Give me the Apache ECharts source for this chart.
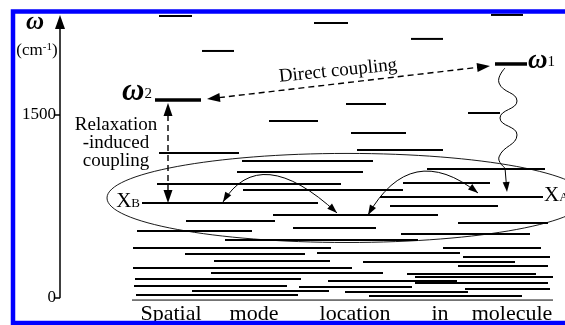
<!DOCTYPE html>
<html><head><meta charset="utf-8">
<script src="https://cdn.jsdelivr.net/npm/echarts@6/dist/echarts.min.js"></script>
<style>html,body{margin:0;padding:0;background:#fff}#c{width:565px;height:325px}</style>
</head><body><div id="c"></div>
<script>
// ---- data (x = position along molecule, v = frequency in cm-1) ----
const yTicks = [0, 1500];
// vibrational levels: [xStart, xEnd, frequency]
const levels = [
  [159,192,2314],[491,523,2322],[314,348,2256],[411,443,2125],[202,234,2026],
  [346,386,1590],[468,500,1516],[269,318,1451],[351,406,1352],[357,443,1212],
  [159,239,1188],[242,373,1122],[427,545,1056],[237,363,1031],[403,490,941],
  [157,341,933],[243,403,884],[380,543,826],[142,318,777],[390,498,752],
  [273,438,678],[186,275,629],[458,548,612],[293,376,571],[137,252,547],
  [401,530,522],[225,418,473],[133,331,407],[443,541,407],[185,305,358],
  [317,460,366],[463,550,333],[214,330,300],[363,515,292],[458,548,259],
  [133,352,242],[211,383,201],[407,536,193],[415,553,168],[135,301,152],
  [328,457,136],[415,548,119],[134,287,95],[299,412,86],[465,550,70],
  [192,329,53],[345,468,45],[136,298,21],[369,522,12]
];
const baseLevel = [[132,553,-21]];
const keyLevels = [[155,201,1623],[495,527,1919]];          // omega2, omega1
// mixing region: [centerX, centerFreq, halfWidthX, halfHeightFreq]
const mixingZone = [[347,818,240,366]];
// relaxation wavy path from omega1 down to X_A
const relaxWave = [[505,1886],[499,1763],[517,1615],[500,1475],[517,1336],[499,1155],[505,1064]];
const relaxDrop = [[505,1064],[507,867]];
// double-headed dashed couplings: [x1, v1, x2, v2]
const dashedCouplings = [[207,1631,490,1903],[168,1599,168,777]];
// curved double-headed arrows: [x0, v0, ctrlX, ctrlV, x1, v1]
const curvedArrows = [[223,785,260,1278,337,695],[368,678,411,1294,478,859]];
// text annotations
const labelPos = [[35,2256],[37,2026],[152,1685],[528,1944],[140,793],[544,838],[116,1270],[338,1862]];
const labelText = ['{wa|ω}','{u|(cm}{p|-1}{u|)}','{wb|ω}{s|2}','{w|ω}{s|1}','{x|X}{b|B}','{x|X}{b|A}','Relaxation\n-induced\ncoupling','Direct coupling'];
const labelAlign = ['center','center','right','left','right','left','center','center'];
const labelRotate = [0,0,0,0,0,0,0,0.1];
const spatialWords = ['Spatial','mode','location','in','molecule'];
const spatialWordX = [171,254,355,440,512];
const spatialV = -136;

// ---- drawing ----
const FONT = "'Liberation Serif','Times New Roman',serif";
const chart = echarts.init(document.getElementById('c'), null, {renderer:'canvas'});

function head(tip, from, len, wid){
  const dx = tip[0]-from[0], dy = tip[1]-from[1];
  const d = Math.hypot(dx,dy) || 1; const ux = dx/d, uy = dy/d;
  const bx = tip[0]-ux*len, by = tip[1]-uy*len;
  return {type:'polygon', shape:{points:[tip,[bx-uy*wid/2,by+ux*wid/2],[bx+uy*wid/2,by-ux*wid/2]]}, style:{fill:'#000', stroke:null}};
}
function back(tip, from, len){
  const dx = tip[0]-from[0], dy = tip[1]-from[1];
  const d = Math.hypot(dx,dy) || 1;
  return [tip[0]-dx/d*len, tip[1]-dy/d*len];
}
function segSeries(data, width){
  return {type:'custom', coordinateSystem:'cartesian2d', clip:false, data:data,
    encode:{x:[0,1], y:2}, silent:true,
    renderItem:function(p, api){
      const a = api.coord([api.value(0), api.value(2)]);
      const b = api.coord([api.value(1), api.value(2)]);
      return {type:'line', shape:{x1:a[0],y1:a[1],x2:b[0],y2:b[1]}, style:{stroke:'#000', lineWidth:width}};
    }};
}

const option = {
  animation:false,
  backgroundColor:'#fff',
  grid:{left:60, right:0, top:22, bottom:27.5, outerBoundsMode:'none'},
  xAxis:{type:'value', min:60, max:565, show:false},
  yAxis:{type:'value', min:0, max:2264,
    axisLine:{show:true, lineStyle:{color:'#000', width:1.5}, symbol:['none','triangle'], symbolSize:[10,14]},
    axisTick:{show:true, customValues:yTicks, length:5, lineStyle:{color:'#000', width:1.5}},
    axisLabel:{customValues:yTicks, margin:4, color:'#000', fontFamily:FONT, fontSize:17,
      formatter:function(v){ return String(v); }},
    splitLine:{show:false}},
  graphic:[{type:'rect', z:100, shape:{x:13, y:11.5, width:570, height:311.5}, style:{fill:null, stroke:'#0000ff', lineWidth:4.5}}],
  series:[
    segSeries(levels, 2),
    segSeries(baseLevel, 1),
    segSeries(keyLevels, 3.5),
    {type:'custom', coordinateSystem:'cartesian2d', clip:false, data:mixingZone, encode:{x:0,y:1}, silent:true,
      renderItem:function(p, api){
        const c = api.coord([api.value(0), api.value(1)]);
        const s = api.size([api.value(2), api.value(3)]);
        return {type:'ellipse', shape:{cx:c[0], cy:c[1], rx:s[0], ry:s[1]}, style:{fill:null, stroke:'#000', lineWidth:0.9}};
      }},
    {type:'custom', coordinateSystem:'cartesian2d', clip:false, data:relaxWave, encode:{x:0,y:1}, silent:true,
      renderItem:function(p, api){
        if (p.dataIndex !== 0) return null;
        const pts = relaxWave.map(function(d){ return api.coord(d); });
        const a = api.coord(relaxDrop[0]), b = api.coord(relaxDrop[1]);
        const bb = back(b, a, 8);
        return {type:'group', children:[
          {type:'polyline', shape:{points:pts, smooth:0.5}, style:{fill:null, stroke:'#000', lineWidth:1}},
          {type:'line', shape:{x1:a[0],y1:a[1],x2:bb[0],y2:bb[1]}, style:{stroke:'#000', lineWidth:1}},
          head(b, a, 10, 7)
        ]};
      }},
    {type:'custom', coordinateSystem:'cartesian2d', clip:false, data:dashedCouplings, encode:{x:[0,2], y:[1,3]}, silent:true,
      renderItem:function(p, api){
        const a = api.coord([api.value(0), api.value(1)]);
        const b = api.coord([api.value(2), api.value(3)]);
        const a2 = back(a, b, 12), b2 = back(b, a, 12);
        return {type:'group', children:[
          {type:'line', shape:{x1:a2[0],y1:a2[1],x2:b2[0],y2:b2[1]}, style:{stroke:'#000', lineWidth:1.4, lineDash:[6,4]}},
          head(a, b, 13, 9), head(b, a, 13, 9)
        ]};
      }},
    {type:'custom', coordinateSystem:'cartesian2d', clip:false, data:curvedArrows, encode:{x:[0,2,4], y:[1,3,5]}, silent:true,
      renderItem:function(p, api){
        const a = api.coord([api.value(0), api.value(1)]);
        const c = api.coord([api.value(2), api.value(3)]);
        const b = api.coord([api.value(4), api.value(5)]);
        return {type:'group', children:[
          {type:'bezierCurve', shape:{x1:a[0],y1:a[1],x2:b[0],y2:b[1],cpx1:c[0],cpy1:c[1]}, style:{fill:null, stroke:'#000', lineWidth:1}},
          head(a, c, 10, 7), head(b, c, 10, 7)
        ]};
      }},
    {type:'custom', coordinateSystem:'cartesian2d', clip:false, data:labelPos, encode:{x:0,y:1}, silent:true,
      renderItem:function(p, api){
        const i = p.dataIndex;
        const pt = api.coord([api.value(0), api.value(1)]);
        return {type:'text', x:pt[0], y:pt[1], rotation:labelRotate[i], style:{
          text:labelText[i], align:labelAlign[i], verticalAlign:'middle', fill:'#000',
          fontFamily:FONT, fontSize:19, lineHeight:18,
          rich:{
            wa:{fontFamily:FONT, fontStyle:'italic', fontWeight:'bold', fontSize:25, fill:'#000'},
            wb:{fontFamily:FONT, fontStyle:'italic', fontWeight:'bold', fontSize:31, fill:'#000'},
            w:{fontFamily:FONT, fontStyle:'italic', fontWeight:'bold', fontSize:27, fill:'#000'},
            s:{fontFamily:FONT, fontSize:15, verticalAlign:'bottom', fill:'#000'},
            u:{fontFamily:FONT, fontSize:17, fill:'#000'},
            p:{fontFamily:FONT, fontSize:11, verticalAlign:'top', fill:'#000'},
            x:{fontFamily:FONT, fontSize:21, fill:'#000'},
            b:{fontFamily:FONT, fontSize:13, verticalAlign:'bottom', fill:'#000'}
          }}};
      }},
    {type:'custom', coordinateSystem:'cartesian2d', clip:false, silent:true,
      data:spatialWordX.map(function(x){ return [x, spatialV]; }), encode:{x:0,y:1},
      renderItem:function(p, api){
        const pt = api.coord([api.value(0), api.value(1)]);
        return {type:'text', x:pt[0], y:pt[1], style:{text:spatialWords[p.dataIndex], align:'center', verticalAlign:'middle', fill:'#000', fontFamily:FONT, fontSize:22}};
      }}
  ]
};
chart.setOption(option);
</script></body></html>
